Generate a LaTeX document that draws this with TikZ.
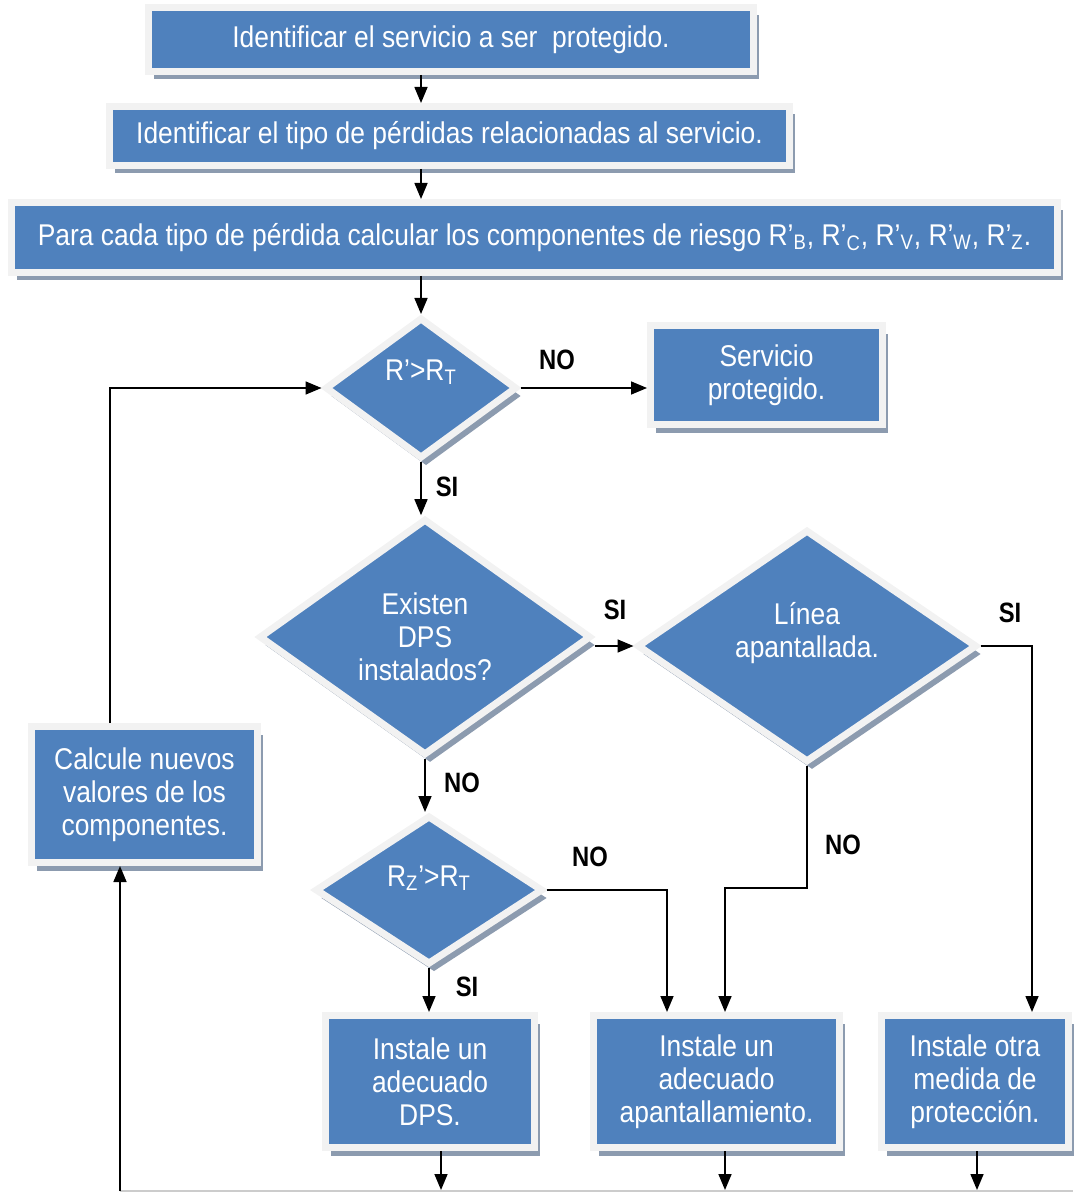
\documentclass[tikz,border=0pt]{standalone}
\usepackage{fontspec}
\setmainfont{Liberation Sans}[FakeStretch=0.88]
\newfontfamily\lblfont{Liberation Sans}[FakeStretch=0.85]
\usetikzlibrary{shapes.geometric,shadows,arrows.meta}
\definecolor{boxblue}{RGB}{79,129,189}
\definecolor{framec}{RGB}{242,242,242}
\definecolor{shadowc}{RGB}{140,155,175}
\begin{document}
\begin{tikzpicture}[x=0.5pt,y=-0.5pt,
  base/.style={fill=boxblue, draw=framec, line width=3.5pt, text=white,
    font=\fontsize{15}{16.5}\selectfont, align=center, inner sep=0pt,
    drop shadow={shadow xshift=2.5pt, shadow yshift=-4pt, fill=shadowc, opacity=1}},
  procbox/.style={base, rectangle},
  decis/.style={base, diamond},
  lbl/.style={font=\lblfont\bfseries\fontsize{14}{16}\selectfont, text=black, inner sep=0pt},
  arr/.style={-{Triangle[length=8pt,width=6.5pt]}, line width=0.8pt},
  ln/.style={line width=0.8pt}
]
\useasboundingbox (0,0) rectangle (1073,1192);

% process boxes
\node[procbox, minimum width=302.5pt, minimum height=32pt] (b1) at (451,39.5)
  {Identificar el servicio a ser\ \ protegido.};
\node[procbox, minimum width=340pt, minimum height=29.5pt] (b2) at (449.5,136)
  {Identificar el tipo de pérdidas relacionadas al servicio.};
\node[procbox, minimum width=523pt, minimum height=35pt] (b3) at (534.5,237.5)
  {Para cada tipo de pérdida calcular los componentes de riesgo R’\textsubscript{B}, R’\textsubscript{C}, R’\textsubscript{V}, R’\textsubscript{W}, R’\textsubscript{Z}.};
\node[procbox, minimum width=116pt, minimum height=49.5pt] (serv) at (766.5,375)
  {Servicio\\protegido.};
\node[procbox, minimum width=113pt, minimum height=68pt] (calc) at (144.5,794.5)
  {Calcule nuevos\\valores de los\\componentes.};
\node[procbox, minimum width=104.5pt, minimum height=66pt] (dps) at (430,1081.5)
  {Instale un\\adecuado\\DPS.};
\node[procbox, minimum width=123pt, minimum height=66pt] (apant) at (716.5,1081.5)
  {Instale un\\adecuado\\apantallamiento.};
\node[procbox, minimum width=93.5pt, minimum height=66pt] (prot) at (975,1081.5)
  {Instale otra\\medida de\\protección.};

% decisions
\node[decis, minimum width=96pt, minimum height=70.5pt] (d1) at (421,388)
  {\raisebox{18pt}{R'>R\textsubscript{T}}};
\node[decis, minimum width=166pt, minimum height=118.3pt] (d2) at (425,637)
  {Existen\\DPS\\instalados?};
\node[decis, minimum width=170pt, minimum height=116.3pt] (d3) at (807,646)
  {Línea\\apantallada.\\[0pt]\mbox{}};
\node[decis, minimum width=114pt, minimum height=74.5pt] (d4) at (429,890)
  {\raisebox{14pt}{R\textsubscript{Z}'>R\textsubscript{T}}};

% helper coordinates
\coordinate (loopx) at (110,0);
\coordinate (sx) at (1032,0);
\coordinate (k3) at (725,888);
\coordinate (k4) at (667,0);
\coordinate (bl) at (120,1191);
\coordinate (br) at (1073,1191);
\coordinate (o1) at (441,1190);
\coordinate (o2) at (725,1190);
\coordinate (o3) at (977,1190);

% connectors
\draw[arr] (b1.south -| d1.north) -- (b2.north -| d1.north);
\draw[arr] (b2.south -| d1.north) -- (b3.north -| d1.north);
\draw[arr] (b3.south -| d1.north) -- (d1.north);
\draw[arr] (d1.east) -- (d1.east -| serv.west);
\draw[arr] (calc.north -| loopx) |- (d1.west);
\draw[arr] (d1.south) -- (d1.south |- d2.north);
\draw[arr] (d2.east |- d3.west) -- (d3.west);
\draw[arr] (d3.east) -| (sx |- prot.north);
\draw[arr] (d3.south) |- (k3) -- (k3 |- apant.north);
\draw[arr] (d2.south) -- (d2.south |- d4.north);
\draw[arr] (d4.east) -| (k4 |- apant.north);
\draw[arr] (d4.south) -- (d4.south |- dps.north);
\draw[arr] (dps.south -| o1) -- (o1);
\draw[arr] (apant.south -| o2) -- (o2);
\draw[arr] (prot.south -| o3) -- (o3);
\draw[ln, gray!40] (bl) -- (br);
\draw[arr] (bl) -- (bl |- calc.south);

% labels
\node[lbl] (l1) at (557,360) {NO};
\node[lbl] (l2) at (447,487) {SI};
\node[lbl] (l3) at (615,610) {SI};
\node[lbl] (l4) at (1010,613) {SI};
\node[lbl] (l5) at (462,783) {NO};
\node[lbl] (l6) at (590,857) {NO};
\node[lbl] (l7) at (843,845) {NO};
\node[lbl] (l8) at (467,987) {SI};
\end{tikzpicture}
\end{document}
